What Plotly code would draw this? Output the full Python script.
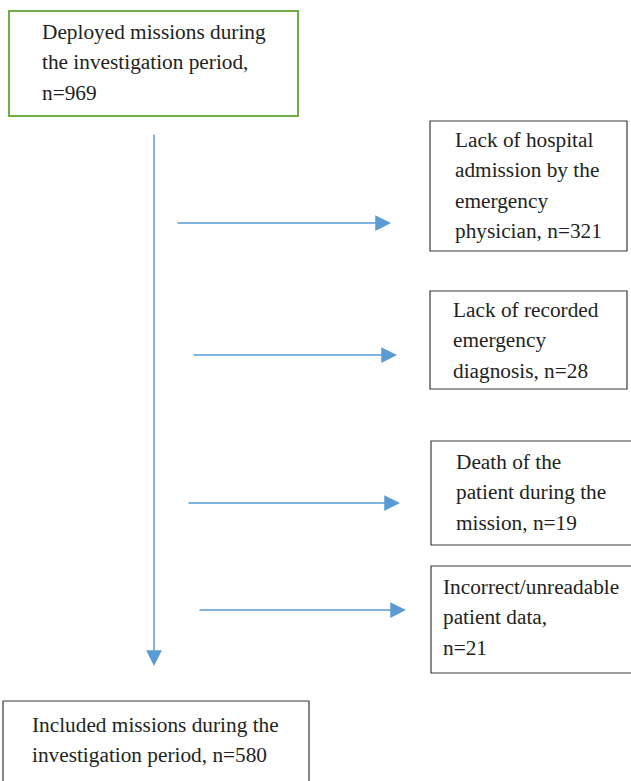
import plotly.graph_objects as go

# ---- data ----
start_label = ["Deployed missions during", "the investigation period,", "n=969"]
start_n = 969
exclusion_labels = [
    ["Lack of hospital", "admission by the", "emergency", "physician, n=321"],
    ["Lack of recorded", "emergency", "diagnosis, n=28"],
    ["Death of the", "patient during the", "mission, n=19"],
    ["Incorrect/unreadable", "patient data,", "n=21"],
]
exclusion_n = [321, 28, 19, 21]
end_label = ["Included missions during the", "investigation period, n=580"]
end_n = 580

# ---- layout (pixel geometry) ----
W, H = 631, 781
start_box = (9, 11, 298, 116)
start_text = (40, 32)
excl_boxes = [(430, 121, 627, 251), (430, 291, 627, 389), (431, 441, 640, 545), (431, 566, 640, 673)]
excl_text = [(453, 140), (451, 310), (454, 462), (441, 587)]
excl_arrows = [(176, 391, 223), (192, 397, 355), (187, 400, 503), (198, 406, 610)]
end_box = (3, 701, 309, 800)
end_text = (30, 725)
main_line = (154, 133, 666)
line_gap = 30.3

font = dict(family="Liberation Serif, Times New Roman, serif", size=21.3, color="#231f20")
arrow_col = "#5b9bd5"

fig = go.Figure()
fig.add_trace(go.Scatter(x=[0, W], y=[0, H], mode="markers", marker=dict(opacity=0), hoverinfo="skip"))

shapes = []
annots = []

def box(b, col, w):
    shapes.append(dict(type="rect", xref="x", yref="y", x0=b[0], y0=b[1], x1=b[2], y1=b[3],
                       line=dict(color=col, width=w), fillcolor="white", layer="below"))

def text_lines(lines, pos):
    for i, t in enumerate(lines):
        annots.append(dict(x=pos[0], y=pos[1] + i * line_gap, xref="x", yref="y", text=t,
                           showarrow=False, xanchor="left", yanchor="middle", font=font))

box(start_box, "#70ad47", 2)
text_lines(start_label, start_text)
for b, t, lab in zip(excl_boxes, excl_text, exclusion_labels):
    box(b, "#3a3a3a", 1.2)
    text_lines(lab, t)
box(end_box, "#3a3a3a", 1.2)
text_lines(end_label, end_text)

arrow_style = dict(arrowhead=2, arrowsize=2.1, arrowwidth=1.5, arrowcolor=arrow_col)
# main vertical arrow
annots.append(dict(x=main_line[0], y=main_line[2], ax=main_line[0], ay=main_line[1],
                   xref="x", yref="y", axref="x", ayref="y", text="", showarrow=True, **arrow_style))
for x0, x1, y in excl_arrows:
    annots.append(dict(x=x1, y=y, ax=x0, ay=y, xref="x", yref="y", axref="x", ayref="y",
                       text="", showarrow=True, **arrow_style))

fig.update_layout(
    width=W, height=H, margin=dict(l=0, r=0, t=0, b=0),
    paper_bgcolor="white", plot_bgcolor="white", showlegend=False,
    xaxis=dict(range=[0, W], visible=False, fixedrange=True),
    yaxis=dict(range=[H, 0], visible=False, fixedrange=True),
    shapes=shapes, annotations=annots,
)
fig.write_html("out.html", config={"displayModeBar": False},
               post_script="document.body.style.margin='0';document.body.style.overflow='hidden';")
